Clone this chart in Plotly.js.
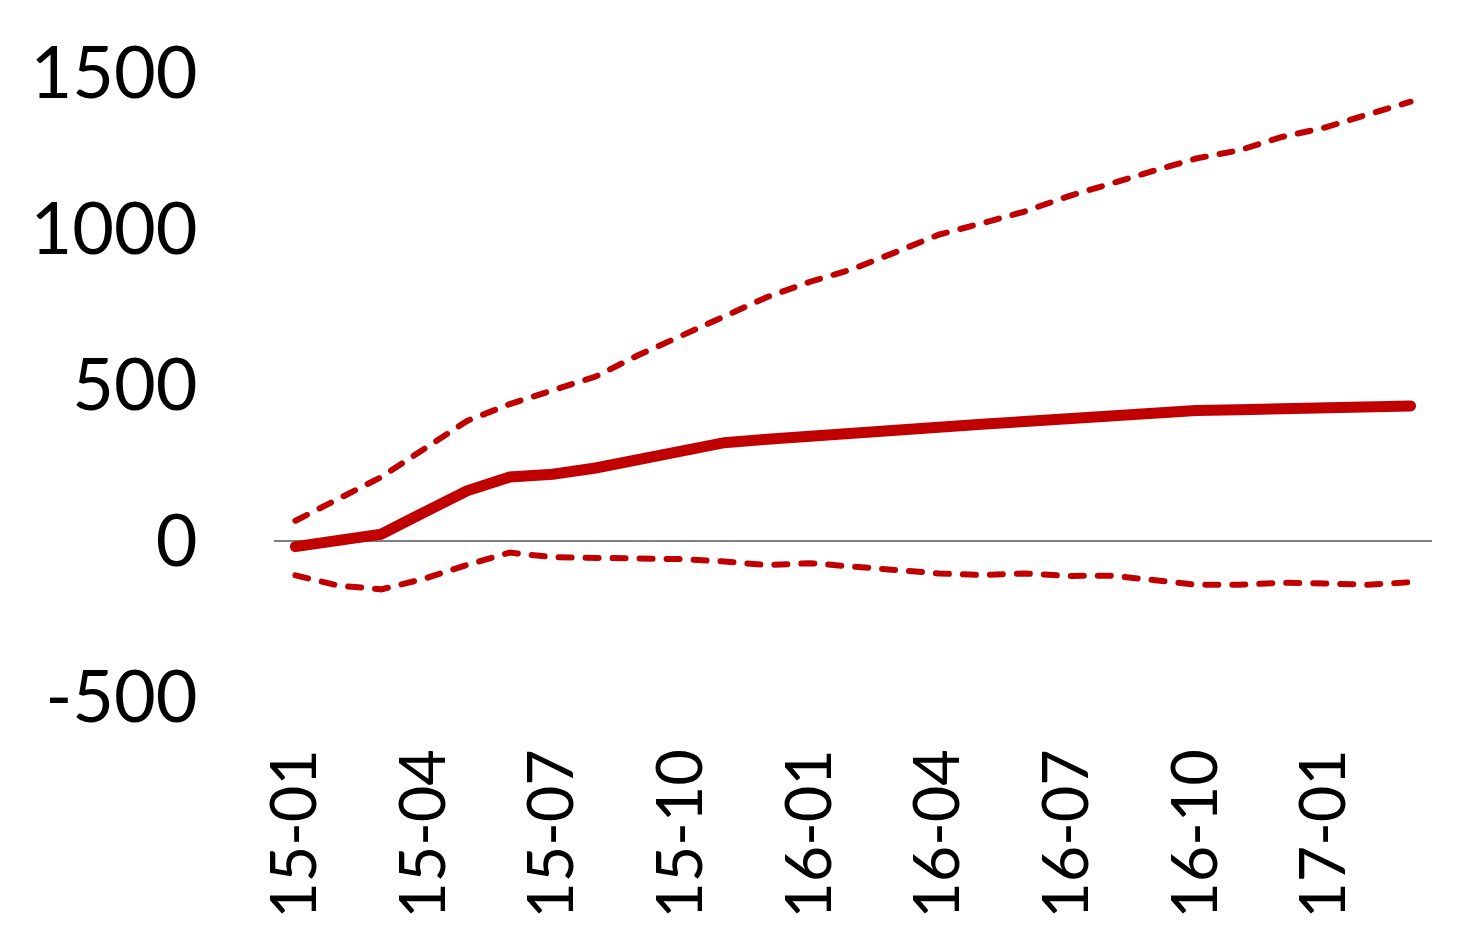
<!DOCTYPE html>
<html>
<head>
<meta charset="utf-8">
<script src="https://cdn.plot.ly/plotly-3.0.1.min.js"></script>
<style>html,body{margin:0;padding:0;background:#fff;}#chart{width:1482px;height:947px;}
#chart .scatterlayer path.js-line{stroke-linecap:round;}</style>
</head>
<body>
<div id="chart"></div>
<script>
const months = ["15-01","15-02","15-03","15-04","15-05","15-06","15-07","15-08","15-09","15-10","15-11","15-12",
                "16-01","16-02","16-03","16-04","16-05","16-06","16-07","16-08","16-09","16-10","16-11","16-12",
                "17-01","17-02","17-03"];
const tickLabels = ["15-01","15-04","15-07","15-10","16-01","16-04","16-07","16-10","17-01"];
const central = [-18, 2, 22, 92, 161, 205, 214, 234, 261, 288, 315, 326, 337, 347, 356, 365, 374, 383, 392, 400, 416, 418, 421, 425, 429, 432, 433];
const upper   = [65, 134, 205, 295, 385, 439, 484, 527, 596, 657, 719, 782, 831, 872, 926, 982, 1018, 1056, 1104, 1147, 1186, 1226, 1252, 1295, 1325, 1367, 1408];
const lower   = [-110, -143, -155, -121, -77, -37, -52, -54, -59, -58, -66, -77, -71, -82, -90, -104, -109, -104, -112, -111, -125, -140, -140, -134, -136, -140, -132];
const yTicks  = [-500, 0, 500, 1000, 1500];

const red = "#C00000";
const traces = [
  {x: months, y: upper, type: "scatter", mode: "lines", line: {color: red, width: 6, dash: "13px,14px"}, hoverinfo: "skip"},
  {x: months, y: lower, type: "scatter", mode: "lines", line: {color: red, width: 6, dash: "13px,14px"}, hoverinfo: "skip"},
  {x: months, y: central, type: "scatter", mode: "lines", line: {color: red, width: 11}, hoverinfo: "skip"}
];
const yfont = {family: "Lato, 'Liberation Sans', sans-serif", size: 72, color: "#000"};
const xfont = {family: "Lato, 'Liberation Sans', sans-serif", size: 63, color: "#000"};
const layout = {
  width: 1482, height: 947,
  margin: {l: 273.5, r: 49.5, t: 73, b: 250, pad: 0},
  paper_bgcolor: "#fff", plot_bgcolor: "#fff",
  showlegend: false,
  font: yfont,
  xaxis: {
    type: "category", range: [-0.5, 26.5],
    tickmode: "array", tickvals: tickLabels, ticktext: tickLabels,
    tickangle: -90, tickfont: xfont,
    ticks: "outside", ticklen: 26, tickcolor: "rgba(0,0,0,0)",
    showgrid: false, zeroline: false, showline: false
  },
  yaxis: {
    range: [-500, 1500],
    tickmode: "array", tickvals: yTicks, ticktext: yTicks.map(String),
    tickfont: yfont,
    ticks: "outside", ticklen: 61, tickcolor: "rgba(0,0,0,0)",
    showgrid: false, showline: false,
    zeroline: true, zerolinecolor: "#7f7f7f", zerolinewidth: 2.5
  }
};
Plotly.newPlot("chart", traces, layout, {staticPlot: true, displayModeBar: false});
</script>
</body>
</html>
